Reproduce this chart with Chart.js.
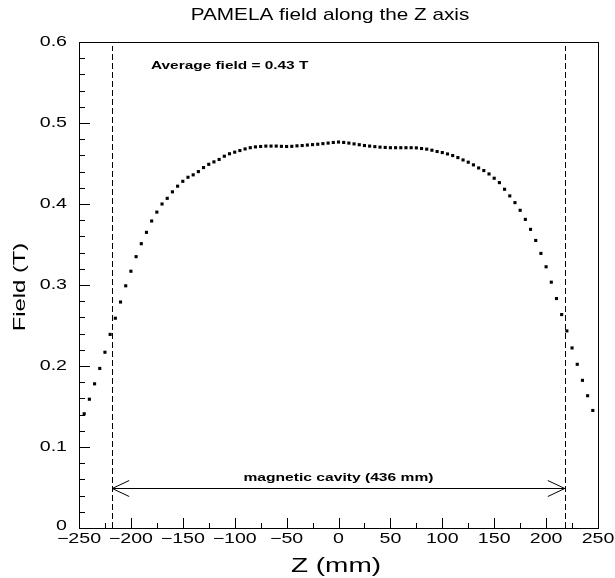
<!DOCTYPE html>
<html><head><meta charset="utf-8">
<script src="https://cdn.jsdelivr.net/npm/chart.js@4.4.1/dist/chart.umd.min.js"></script>
<style>html,body{margin:0;padding:0;background:#fff;}#wrap{width:615px;height:578px;position:relative;}</style>
</head><body><div id="wrap"><canvas id="c" width="615" height="578"></canvas></div>
<script>
const chartTitle = "PAMELA field along the Z axis";
const xAxisTitle = "Z (mm)";
const yAxisTitle = "Field (T)";
const zPositions = [
  -245,-240,-235,-230,-225,-220,-215,-210,-205,-200,
  -195,-190,-185,-180,-175,-170,-165,-160,-155,-150,
  -145,-140,-135,-130,-125,-120,-115,-110,-105,-100,
  -95,-90,-85,-80,-75,-70,-65,-60,-55,-50,
  -45,-40,-35,-30,-25,-20,-15,-10,-5,0,
  5,10,15,20,25,30,35,40,45,50,
  55,60,65,70,75,80,85,90,95,100,
  105,110,115,120,125,130,135,140,145,150,
  155,160,165,170,175,180,185,190,195,200,
  205,210,215,220,225,230,235,240,245];
const fieldValues = [
  0.141,0.159,0.178,0.197,0.217,0.239,0.259,0.279,0.299,0.317,
  0.335,0.351,0.365,0.379,0.390,0.400,0.407,0.415,0.422,0.428,
  0.433,0.436,0.440,0.445,0.449,0.452,0.455,0.459,0.462,0.464,
  0.466,0.468,0.4695,0.4705,0.471,0.4715,0.4715,0.4715,0.4712,0.471,
  0.4712,0.4718,0.4722,0.4728,0.4733,0.4738,0.4745,0.4752,0.476,0.4765,
  0.476,0.4752,0.4742,0.4732,0.4722,0.4715,0.4708,0.4702,0.4698,0.4695,
  0.4695,0.4695,0.4695,0.4695,0.4693,0.4685,0.4677,0.4664,0.4648,0.4635,
  0.4618,0.4598,0.4573,0.4544,0.4516,0.4483,0.4445,0.4413,0.4371,0.4318,
  0.4264,0.4182,0.410,0.4017,0.3922,0.381,0.3687,0.355,0.339,0.3225,
  0.3035,0.2833,0.2635,0.2433,0.2223,0.2021,0.1823,0.1633,0.1451];
const xTickValues = [-250,-200,-150,-100,-50,0,50,100,150,200,250];
const xTickLabels = ["\u2212250","\u2212200","\u2212150","\u2212100","\u221250","0","50","100","150","200","250"];
const xMinorTicks = [-225,-175,-125,-75,-25,25,75,125,175,225];
const yTickValues = [0,0.1,0.2,0.3,0.4,0.5,0.6];
const yTickLabels = ["0","0.1","0.2","0.3","0.4","0.5","0.6"];
const yMinorTicks = [0.02,0.04,0.06,0.08,0.12,0.14,0.16,0.18,0.22,0.24,0.26,0.28,0.32,0.34,0.36,0.38,0.42,0.44,0.46,0.48,0.52,0.54,0.56,0.58];
const cavityEdges = [-218, 218];
const cavityArrowLevel = 0.05;
const cavityLabel = "magnetic cavity (436 mm)";
const averageLabel = "Average field = 0.43 T";

const FONT = "'Liberation Sans', Arial, Helvetica, sans-serif";
function sText(ctx, text, x, y, size, weight, sx, align, baseline, rot) {
  ctx.save();
  ctx.translate(x, y);
  if (rot) ctx.rotate(rot);
  ctx.scale(sx, 1);
  ctx.font = weight + " " + size + "px " + FONT;
  ctx.fillStyle = "#000";
  ctx.textAlign = align;
  ctx.textBaseline = baseline;
  ctx.fillText(text, 0, 0);
  ctx.restore();
}

const decor = {
  id: "decor",
  afterDraw(chart) {
    const ctx = chart.ctx;
    const a = chart.chartArea;
    const xs = chart.scales.x, ys = chart.scales.y;
    const L = Math.round(a.left), R = Math.round(a.right), T = Math.round(a.top), B = Math.round(a.bottom);
    ctx.save();
    ctx.fillStyle = "#000";
    // frame
    ctx.fillRect(L, T, R - L + 1, 1);
    ctx.fillRect(L, B, R - L + 1, 1);
    ctx.fillRect(L, T, 1, B - T + 1);
    ctx.fillRect(R, T, 1, B - T + 1);
    // inward ticks
    for (let i = 0; i < yTickValues.length; i++) {
      const y = Math.round(ys.getPixelForValue(yTickValues[i]));
      ctx.fillRect(L, y, 11, 1);
    }
    for (let i = 0; i < yMinorTicks.length; i++) {
      const y = Math.round(ys.getPixelForValue(yMinorTicks[i]));
      ctx.fillRect(L, y, 6, 1);
    }
    for (let i = 0; i < xTickValues.length; i++) {
      const x = Math.round(xs.getPixelForValue(xTickValues[i]));
      ctx.fillRect(x, B - 10, 1, 11);
    }
    for (let i = 0; i < xMinorTicks.length; i++) {
      const x = Math.round(xs.getPixelForValue(xMinorTicks[i]));
      ctx.fillRect(x, B - 5, 1, 6);
    }
    // dashed cavity edges
    ctx.strokeStyle = "#000";
    ctx.lineWidth = 1;
    ctx.setLineDash([6, 3]);
    ctx.beginPath();
    cavityEdges.forEach(v => { const x = Math.round(xs.getPixelForValue(v)) + 0.5; ctx.moveTo(x, B); ctx.lineTo(x, T + 4); });
    ctx.stroke();
    ctx.setLineDash([]);
    // arrow
    const ay = Math.round(ys.getPixelForValue(cavityArrowLevel)) + 0.5;
    const x1 = xs.getPixelForValue(cavityEdges[0]), x2 = xs.getPixelForValue(cavityEdges[1]);
    ctx.beginPath();
    ctx.moveTo(x1, ay); ctx.lineTo(x2, ay);
    ctx.moveTo(x1 + 17, ay - 8); ctx.lineTo(x1, ay); ctx.lineTo(x1 + 17, ay + 8);
    ctx.moveTo(x2 - 17, ay - 8); ctx.lineTo(x2, ay); ctx.lineTo(x2 - 17, ay + 8);
    ctx.stroke();
    ctx.restore();
    // tick labels
    xTickValues.forEach((v, i) => sText(ctx, xTickLabels[i], xs.getPixelForValue(v), 539, 14, "normal", 1.4, "center", "middle"));
    yTickValues.forEach((v, i) => sText(ctx, yTickLabels[i], 67, ys.getPixelForValue(v) + (v === 0 ? -2 : 0), 14, "normal", 1.4, "right", "middle"));
    // titles
    sText(ctx, chartTitle, 330, 15, 17, "normal", 1.22, "center", "middle");
    sText(ctx, xAxisTitle, 336, 566, 20, "normal", 1.4, "center", "middle");
    sText(ctx, yAxisTitle, 20, 287, 17, "normal", 1.4, "center", "middle", -Math.PI / 2);
    // annotations
    sText(ctx, averageLabel, 151, 66, 11, "bold", 1.4, "left", "middle");
    sText(ctx, cavityLabel, (x1 + x2) / 2, 481, 11, "bold", 1.42, "center", "alphabetic");
  }
};

new Chart(document.getElementById("c"), {
  type: "scatter",
  data: {
    datasets: [{
      data: zPositions.map((z, i) => ({ x: z, y: fieldValues[i] })),
      pointStyle: "rect",
      pointRadius: 2.2,
      pointBorderWidth: 0,
      backgroundColor: "#000",
      borderColor: "#000",
      showLine: false
    }]
  },
  options: {
    responsive: false,
    devicePixelRatio: 1,
    animation: false,
    layout: { padding: { left: 79, right: 17, top: 42, bottom: 50 } },
    plugins: { legend: { display: false }, tooltip: { enabled: false }, title: { display: false } },
    scales: {
      x: { type: "linear", display: false, min: -250, max: 250 },
      y: { type: "linear", display: false, min: 0, max: 0.6 }
    }
  },
  plugins: [decor]
});
</script></body></html>
